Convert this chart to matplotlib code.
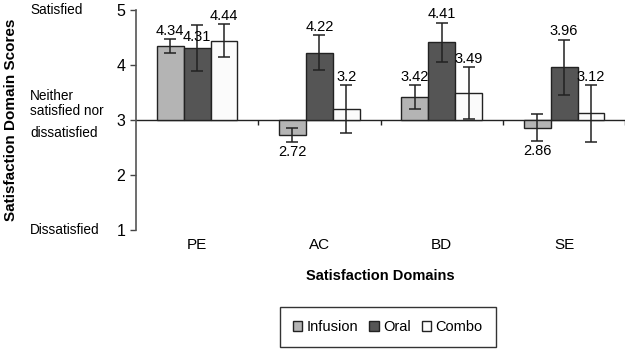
import matplotlib.pyplot as plt
import numpy as np

plt.rcParams['font.family'] = ['Liberation Sans', 'DejaVu Sans']

domains = ['PE', 'AC', 'BD', 'SE']
series = ['Infusion', 'Oral', 'Combo']
infusion = [4.34, 2.72, 3.42, 2.86]
oral = [4.31, 4.22, 4.41, 3.96]
combo = [4.44, 3.2, 3.49, 3.12]
infusion_err = [0.13, 0.13, 0.22, 0.25]
oral_err = [0.42, 0.32, 0.36, 0.5]
combo_err = [0.3, 0.43, 0.47, 0.52]
value_labels = [['4.34', '2.72', '3.42', '2.86'],
                ['4.31', '4.22', '4.41', '3.96'],
                ['4.44', '3.2', '3.49', '3.12']]
y_ticks = [1, 2, 3, 4, 5]
level_names = ['Satisfied', 'Neither\nsatisfied nor', 'dissatisfied', 'Dissatisfied']

colors = ['#b4b4b4', '#555555', '#fbfbfb']
baseline = 3
level_y = [5.0, 3.3, 2.77, 1.0]

fig = plt.figure(figsize=(6.38, 3.52), dpi=100)
ax = fig.add_axes([0.213, 0.347, 0.767, 0.625])

x = np.arange(len(domains))
width = 0.22
all_vals = [infusion, oral, combo]
all_err = [infusion_err, oral_err, combo_err]

for i, (vals, errs, name) in enumerate(zip(all_vals, all_err, series)):
    vals = np.array(vals)
    errs = np.array(errs)
    xs = x + (i - 1) * width
    ax.bar(xs, vals - baseline, width, bottom=baseline, color=colors[i],
           edgecolor='#222222', linewidth=1.0, label=name, zorder=2)
    ax.errorbar(xs, vals, yerr=errs, fmt='none', ecolor='#222222',
                elinewidth=1.1, capsize=4, capthick=1.1, zorder=3)
    for j, (xx, v, e) in enumerate(zip(xs, vals, errs)):
        txt = value_labels[i][j]
        if v >= baseline:
            y = v + e + 0.02
            if i == 1 and j == 0:
                y = v + 0.07
            ax.text(xx, y, txt, ha='center', va='bottom', fontsize=10.5)
        else:
            ax.text(xx, v - e - 0.05, txt, ha='center', va='top', fontsize=10.5)

ax.axhline(baseline, color='#222222', linewidth=1.0, zorder=1)
bounds = np.arange(len(domains) - 1) + 0.5
ax.vlines(list(bounds) + [len(domains) - 0.5], baseline - 0.09, baseline,
          color='#222222', linewidth=1.0)

ax.set_xlim(-0.5, len(domains) - 0.5)
ax.set_ylim(1, 5)
ax.set_yticks(y_ticks)
ax.tick_params(axis='y', labelsize=11.5, colors='#444444', length=4, width=1.0)
for lab in ax.get_yticklabels():
    lab.set_color('black')
ax.set_xticks(x)
ax.set_xticklabels(domains, fontsize=11)
ax.tick_params(axis='x', length=0, pad=6)

for s in ['top', 'right', 'bottom']:
    ax.spines[s].set_visible(False)
ax.spines['left'].set_color('#555555')
ax.spines['left'].set_linewidth(1.2)

ax.set_xlabel('Satisfaction Domains', fontsize=10.5, fontweight='bold', labelpad=12)

# qualitative level names left of the y axis
for name, pos in zip(level_names, level_y):
    ax.annotate(name, xy=(0, pos), xycoords=('axes fraction', 'data'),
                xytext=(30, 0), textcoords=('figure pixels', 'offset points'),
                ha='left', va='center', fontsize=9.8, linespacing=1.05)

fig.text(0.018, 0.66, 'Satisfaction Domain Scores', rotation=90,
         ha='center', va='center', fontsize=11, fontweight='bold')

fig.legend(loc='center', bbox_to_anchor=(0.608, 0.07), ncol=3, fontsize=10.5,
           frameon=True, fancybox=False, edgecolor='black', handlelength=0.65,
           handleheight=0.65, handletextpad=0.3, columnspacing=0.75,
           borderpad=0.9)

fig.savefig('out.png', dpi=100)
